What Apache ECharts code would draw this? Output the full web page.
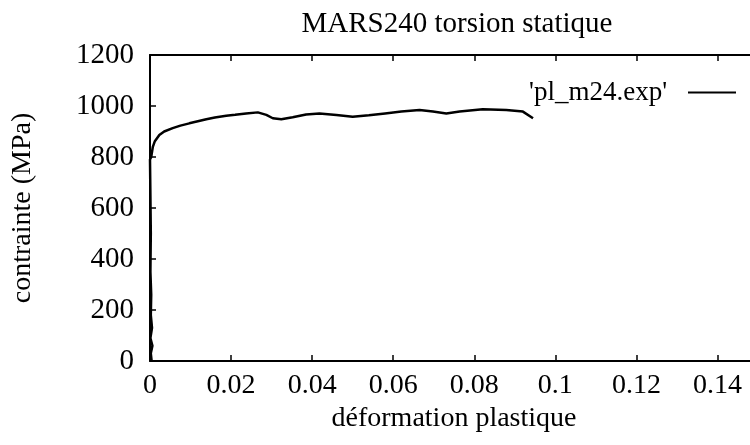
<!DOCTYPE html>
<html>
<head>
<meta charset="utf-8">
<script src="https://cdn.jsdelivr.net/npm/echarts@6/dist/echarts.min.js"></script>
<style>
  html, body { margin: 0; padding: 0; background: #fff; }
  #main { width: 750px; height: 445px; }
</style>
</head>
<body>
<div id="main"></div>
<script>
const titleText = 'MARS240 torsion statique';
const seriesName = "'pl_m24.exp'";
const xTicks = [0, 0.02, 0.04, 0.06, 0.08, 0.1, 0.12, 0.14];
const yTicks = [0, 200, 400, 600, 800, 1000, 1200];

const strain = [
  0.0004, 0.0002, 0.0006, 0.0001, 0.0005, 0.0002, 0.0003, 0.0001, 0.0002, 0.0001, 0,
  0.0003, 0.0007, 0.0012, 0.0023, 0.0035, 0.0056, 0.0075, 0.0097, 0.0118, 0.0139,
  0.016, 0.0188, 0.021, 0.0237, 0.0266, 0.0287, 0.0303, 0.0324, 0.0352, 0.0385,
  0.0418, 0.046, 0.050, 0.054, 0.058, 0.062, 0.0665, 0.0698, 0.0731, 0.0764,
  0.0821, 0.0879, 0.092, 0.0945
];
const stress = [
  0, 30, 60, 90, 130, 180, 260, 350, 500, 650, 790,
  800, 840, 862, 886, 900, 913, 923, 932, 940, 948,
  955, 962, 966, 971, 975, 965, 952, 948, 956, 967,
  971, 965, 958, 964, 971, 978, 984, 978, 971, 978,
  987, 984, 978, 952
];

const font = 'Liberation Serif';
const chart = echarts.init(document.getElementById('main'));

chart.setOption({
  animation: false,
  backgroundColor: '#fff',
  textStyle: { fontFamily: font, color: '#000' },
  title: {
    text: titleText,
    left: 452,
    top: 5,
    textAlign: 'center',
    textStyle: { fontFamily: font, fontSize: 29, fontWeight: 'normal', color: '#000' }
  },
  legend: {
    right: 9,
    top: 74,
    align: 'right',
    icon: 'rect',
    itemWidth: 48,
    itemHeight: 2,
    textStyle: { fontFamily: font, fontSize: 27, color: '#000', padding: [0, 16, 0, 0] },
    data: [seriesName]
  },
  grid: { left: 150, top: 55, right: -8, bottom: 84, outerBoundsMode: 'none' },
  xAxis: [{
    type: 'value',
    min: 0,
    max: 0.15,
    interval: 0.02,
    name: 'déformation plastique',
    nameLocation: 'middle',
    nameGap: 38,
    nameTextStyle: { fontFamily: font, fontSize: 28, color: '#000' },
    axisLine: { lineStyle: { color: '#000', width: 2 } },
    axisTick: { inside: true, length: 6, lineStyle: { color: '#000', width: 1.5 } },
    splitLine: { show: false },
    axisLabel: {
      fontFamily: font, fontSize: 28, color: '#000', margin: 11,
      formatter: v => (xTicks.indexOf(+v.toFixed(2)) >= 0 ? String(+v.toFixed(2)) : '')
    }
  }, {
    type: 'value',
    position: 'top',
    min: 0,
    max: 0.15,
    interval: 0.02,
    axisLine: { show: true, lineStyle: { color: '#000', width: 2 } },
    axisTick: { inside: true, length: 6, lineStyle: { color: '#000', width: 1.5 } },
    axisLabel: { show: false },
    splitLine: { show: false }
  }],
  yAxis: [{
    type: 'value',
    min: 0,
    max: 1200,
    interval: 200,
    name: 'contrainte (MPa)',
    nameLocation: 'middle',
    nameGap: 113,
    nameTextStyle: { fontFamily: font, fontSize: 28, color: '#000' },
    axisLine: { show: true, lineStyle: { color: '#000', width: 2 } },
    axisTick: { show: true, inside: true, length: 6, lineStyle: { color: '#000', width: 1.5 } },
    splitLine: { show: false },
    axisLabel: {
      fontFamily: font, fontSize: 29, color: '#000', margin: 16,
      formatter: v => (yTicks.indexOf(v) >= 0 ? String(v) : '')
    }
  }],
  series: [{
    name: seriesName,
    type: 'line',
    showSymbol: false,
    symbol: 'none',
    smooth: false,
    lineStyle: { color: '#000', width: 2.5 },
    itemStyle: { color: '#000' },
    data: strain.map((s, i) => [s, stress[i]])
  }]
});
</script>
</body>
</html>
